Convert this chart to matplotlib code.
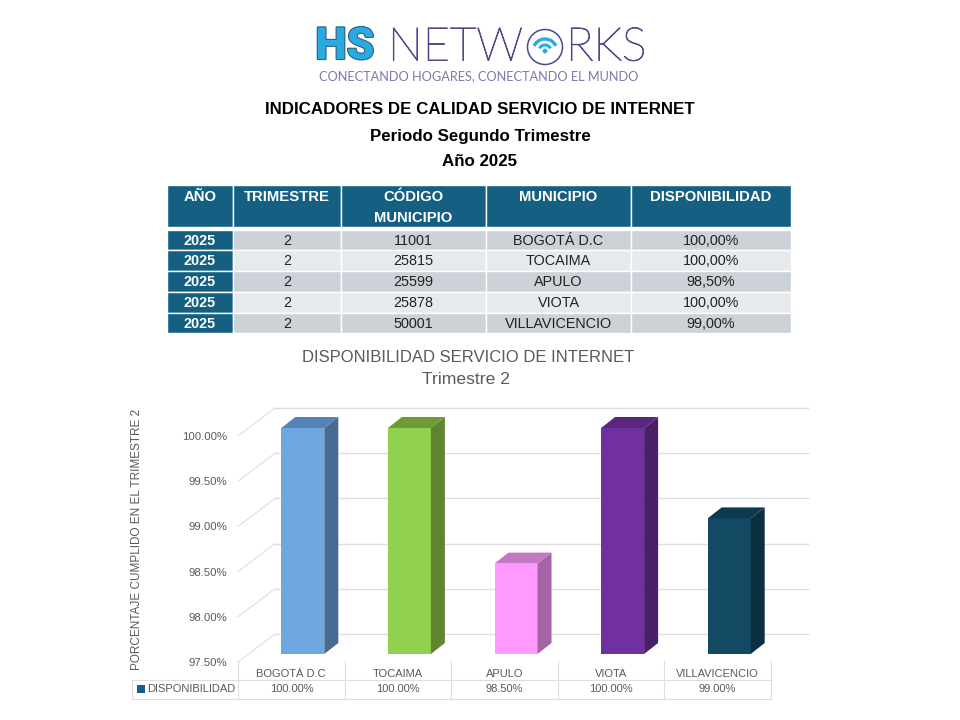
#!/usr/bin/env python3
# -*- coding: utf-8 -*-
import numpy as np
import matplotlib
matplotlib.use('Agg')
import matplotlib.pyplot as plt
import matplotlib.patheffects as pe
from matplotlib.patches import Rectangle, Polygon, Circle, Arc

# data
municipios = ['BOGOTÁ D.C', 'TOCAIMA', 'APULO', 'VIOTA', 'VILLAVICENCIO']
codigos = ['11001', '25815', '25599', '25878', '50001']
disponibilidad = [100.0, 100.0, 98.5, 100.0, 99.0]
anio = '2025'
trimestre = '2'
columnas = ['AÑO', 'TRIMESTRE', 'CÓDIGO\nMUNICIPIO', 'MUNICIPIO', 'DISPONIBILIDAD']
y_ticks = [97.5, 98.0, 98.5, 99.0, 99.5, 100.0]

# colores de cada barra: frente, lado, tapa
frente = ['#6FA8E0', '#92D050', '#FF99FF', '#7030A0', '#124A63']
lado = ['#466A91', '#5F8530', '#A663A6', '#481F68', '#0B2F40']
tapa = ['#5484B7', '#6E9B38', '#C278C2', '#592680', '#0E3A4F']

AZUL = '#156082'
GRIS = '#595959'
LINEA = '#DEDEDE'
BODY_FONT = 'Liberation Sans'

fig = plt.figure(figsize=(9.6, 7.2), dpi=100, facecolor='white')

# capa en pixeles para logo, titulos y tablas
bg = fig.add_axes([0, 0, 1, 1])
bg.set_xlim(0, 960)
bg.set_ylim(720, 0)
bg.axis('off')

# logo
bg.text(345, 47, 'HS', fontsize=32, fontweight='black', family='Roboto', color='#29ABE2',
        ha='center', va='center',
        path_effects=[pe.withStroke(linewidth=1.6, foreground='#2F5F7F')])
trazo = [pe.withStroke(linewidth=0.7, foreground='#4A4A8C')]
bg.text(388, 48, 'NETW', fontsize=33.5, fontweight='light', family='Lato', color='#4A4A8C',
        ha='left', va='center', path_effects=trazo)
bg.text(566, 48, 'RKS', fontsize=33.5, fontweight='light', family='Lato', color='#4A4A8C',
        ha='left', va='center', path_effects=trazo)
bg.add_patch(Circle((545, 47), 17.5, fill=False, ec='#4A4A8C', lw=1.1))
bg.add_patch(Arc((545, 51), 24, 24, theta1=205, theta2=335, ec='#29ABE2', lw=2.4))
bg.add_patch(Arc((545, 51), 12, 12, theta1=205, theta2=335, ec='#29ABE2', lw=2.2))
bg.add_patch(Circle((545, 51), 2.4, fc='#29ABE2', ec='none'))
bg.text(479, 76, 'CONECTANDO HOGARES, CONECTANDO EL MUNDO', fontsize=9.2,
        family='Lato', color='#7E78AE', ha='center', va='center')

# titulos
bg.text(480, 109, 'INDICADORES DE CALIDAD SERVICIO DE INTERNET', fontsize=12.2,
        fontweight='bold', family=BODY_FONT, ha='center', va='center', color='black')
bg.text(480, 136, 'Periodo Segundo Trimestre', fontsize=12.2,
        fontweight='bold', family=BODY_FONT, ha='center', va='center', color='black')
bg.text(480, 161, 'Año 2025', fontsize=12.2,
        fontweight='bold', family=BODY_FONT, ha='center', va='center', color='black')

# tabla superior
col_x = [167, 233, 341, 486, 631, 791]
row_y = [230, 250, 271, 292, 313, 333]
for j in range(5):
    x0, x1 = col_x[j], col_x[j + 1]
    bg.add_patch(Rectangle((x0, 185), x1 - x0, 41.5, fc=AZUL, ec='white', lw=1))
    bg.text((x0 + x1) / 2, 197, columnas[j].split('\n')[0], fontsize=10.7, fontweight='bold',
            family=BODY_FONT, color='white', ha='center', va='center')
    if '\n' in columnas[j]:
        bg.text((x0 + x1) / 2, 218, columnas[j].split('\n')[1], fontsize=10.7, fontweight='bold',
                family=BODY_FONT, color='white', ha='center', va='center')

for i in range(5):
    y0, y1 = row_y[i], row_y[i + 1]
    fondo = '#CCD2D8' if i % 2 == 0 else '#E7EAED'
    fila = [anio, trimestre, codigos[i], municipios[i],
            ('%.2f%%' % disponibilidad[i]).replace('.', ',')]
    for j in range(5):
        x0, x1 = col_x[j], col_x[j + 1]
        bg.add_patch(Rectangle((x0, y0), x1 - x0, y1 - y0, fc=AZUL if j == 0 else fondo,
                               ec='white', lw=1))
        if j == 0:
            bg.text((x0 + x1) / 2, (y0 + y1) / 2 + 0.7, fila[j], fontsize=10.4, fontweight='bold',
                    family=BODY_FONT, color='white', ha='center', va='center')
        else:
            bg.text((x0 + x1) / 2, (y0 + y1) / 2 + 0.7, fila[j], fontsize=10.4,
                    family=BODY_FONT, color='#222222', ha='center', va='center')

# titulo del grafico
bg.text(468, 357, 'DISPONIBILIDAD SERVICIO DE INTERNET', fontsize=12, family=BODY_FONT,
        color=GRIS, ha='center', va='center')
bg.text(466, 380, 'Trimestre 2', fontsize=12.6, family=BODY_FONT,
        color=GRIS, ha='center', va='center')
bg.text(137, 539.5, 'PORCENTAJE CUMPLIDO EN EL TRIMESTRE 2', fontsize=8.45, family=BODY_FONT,
        color=GRIS, rotation=90, ha='center', va='center')

# tabla de datos bajo el grafico
tab_x = [238, 345, 451, 558, 664, 771]
bg.plot([132, 771], [680, 680], color=LINEA, lw=0.8)
bg.plot([132, 771], [699, 699], color=LINEA, lw=0.8)
for x in tab_x:
    bg.plot([x, x], [661, 699], color=LINEA, lw=0.8)
bg.plot([132, 132], [680, 699], color=LINEA, lw=0.8)
bg.add_patch(Rectangle((137, 685), 8, 8, fc=AZUL, ec='none'))
bg.text(147, 689.5, 'DISPONIBILIDAD', fontsize=8, family=BODY_FONT, color=GRIS,
        ha='left', va='center')
for i in range(5):
    bg.text((tab_x[i] + tab_x[i + 1]) / 2, 689.5, '%.2f%%' % disponibilidad[i], fontsize=8,
            family=BODY_FONT, color=GRIS, ha='center', va='center')

# grafico: el eje coincide con el borde frontal de la pared
ax = fig.add_axes([238 / 960, (720 - 662) / 720, 533 / 960, 226 / 720])
ax.patch.set_alpha(0)
ax.set_xlim(-0.5, 4.5)
ax.set_ylim(97.5, 100.0)
for s in ax.spines.values():
    s.set_visible(False)

px_x = 5 / 533
px_y = 2.5 / 226
wall_dx, wall_dy = 37 * px_x, 28 * px_y
off_x, off_y = 11.5 * px_x, 8 * px_y
dep_x, dep_y = 14 * px_x, 11 * px_y

for t in y_ticks:
    ax.plot([-0.5, -0.5 + wall_dx], [t, t + wall_dy], color=LINEA, lw=0.8, clip_on=False, zorder=1)
    ax.plot([-0.5 + wall_dx, 4.5 + wall_dx], [t + wall_dy, t + wall_dy], color=LINEA, lw=1,
            clip_on=False, zorder=1)

x_pos = np.arange(len(municipios))
base = y_ticks[0]
ancho = 43 * px_x
heights = [v - base for v in disponibilidad]
ax.bar(x_pos + off_x, heights, width=ancho, bottom=base + off_y, color=frente,
       clip_on=False, zorder=3)
for i, v in enumerate(disponibilidad):
    xr = x_pos[i] + off_x + ancho / 2
    xl = x_pos[i] + off_x - ancho / 2
    yt = v + off_y
    yb = base + off_y
    ax.add_patch(Polygon([(xr, yb), (xr + dep_x, yb + dep_y), (xr + dep_x, yt + dep_y), (xr, yt)],
                         closed=True, fc=lado[i], ec='none', clip_on=False, zorder=3))
    ax.add_patch(Polygon([(xl, yt), (xl + dep_x, yt + dep_y), (xr + dep_x, yt + dep_y), (xr, yt)],
                         closed=True, fc=tapa[i], ec='none', clip_on=False, zorder=3))

ax.set_yticks(y_ticks)
ax.set_yticklabels(['%.2f%%' % t for t in y_ticks], fontsize=8.2, family=BODY_FONT, color=GRIS)
ax.set_xticks(x_pos)
ax.set_xticklabels(municipios, fontsize=8, family=BODY_FONT, color=GRIS)
ax.tick_params(axis='y', length=0, pad=8)
ax.tick_params(axis='x', length=0, pad=5)

fig.savefig('out.png', dpi=100, facecolor='white')
plt.close(fig)
